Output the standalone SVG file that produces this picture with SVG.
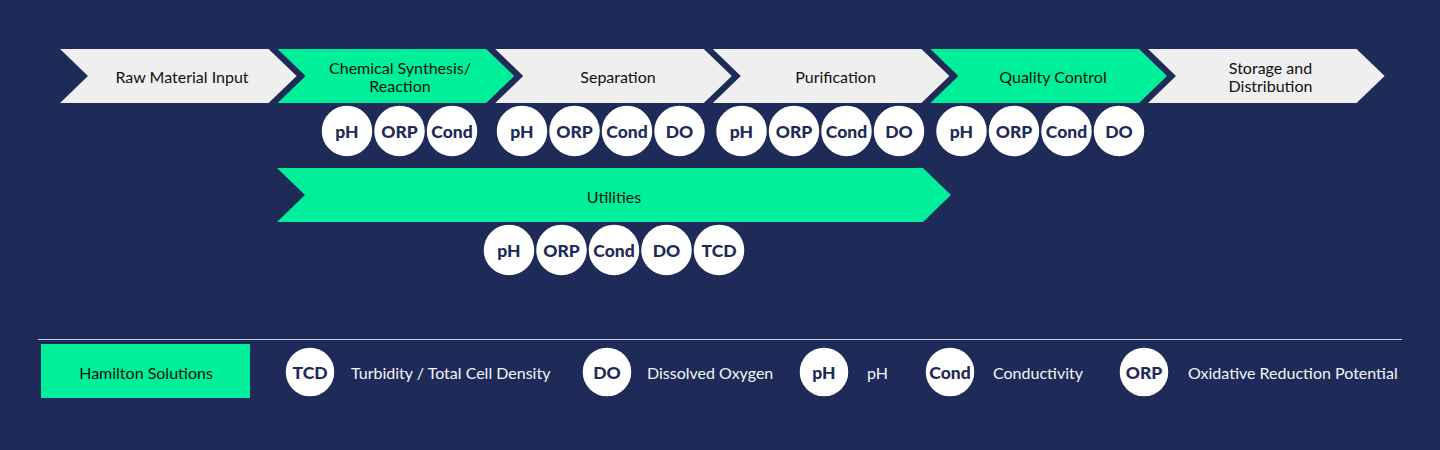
<svg xmlns="http://www.w3.org/2000/svg" width="1440" height="450" viewBox="0 0 1440 450">
<defs>
<style>
.bg{fill:#1e2b58}
.gray{fill:#efefef}
.green{fill:#00ef9a}
.lbl{font-family:Lato,"Liberation Sans",sans-serif;font-size:16px;fill:#111;text-anchor:middle;dominant-baseline:central}
.c{fill:#fff;stroke:#1e2b58;stroke-width:1.5}
.ct{font-family:Lato,"Liberation Sans",sans-serif;font-weight:900;font-size:17.5px;fill:#1e2b58;text-anchor:middle;dominant-baseline:central}
.lg{font-family:Lato,"Liberation Sans",sans-serif;font-size:16px;fill:#f4f4f8;dominant-baseline:central}
</style>
<path id="chev" d="M0,0 H208.6 L236.6,27 L208.6,54 H0 L28,27 Z"/>
</defs>
<rect class="bg" x="0" y="0" width="1440" height="450"/>

<g id="stage-raw">
<use href="#chev" class="gray" x="60" y="49"/>
<text class="lbl" x="182" y="76">Raw Material Input</text>
</g>
<g id="stage-synthesis">
<use href="#chev" class="green" x="277.6" y="49"/>
<text class="lbl" x="400" y="67">Chemical Synthesis/</text>
<text class="lbl" x="400" y="85">Reaction</text>
</g>
<g id="stage-separation">
<use href="#chev" class="gray" x="495.2" y="49"/>
<text class="lbl" x="618" y="76">Separation</text>
</g>
<g id="stage-purification">
<use href="#chev" class="gray" x="712.8" y="49"/>
<text class="lbl" x="835.5" y="76">Purification</text>
</g>
<g id="stage-qc">
<use href="#chev" class="green" x="930.4" y="49"/>
<text class="lbl" x="1053" y="76">Quality Control</text>
</g>
<g id="stage-storage">
<use href="#chev" class="gray" x="1148" y="49"/>
<text class="lbl" x="1270.5" y="67">Storage and</text>
<text class="lbl" x="1270.5" y="85">Distribution</text>
</g>

<g id="utilities">
<path class="green" d="M277,168 H923 L951,195 L923,222 H277 L305,195 Z"/>
<text class="lbl" x="614" y="196">Utilities</text>
</g>

<g id="sensors-synthesis">
<circle class="c" cx="347" cy="131" r="26"/><text class="ct" x="347" y="131">pH</text>
<circle class="c" cx="399.5" cy="131" r="26"/><text class="ct" x="399.5" y="131">ORP</text>
<circle class="c" cx="452" cy="131" r="26"/><text class="ct" x="452" y="131">Cond</text>
</g>
<g id="sensors-separation">
<circle class="c" cx="522" cy="131" r="26"/><text class="ct" x="522" y="131">pH</text>
<circle class="c" cx="574.5" cy="131" r="26"/><text class="ct" x="574.5" y="131">ORP</text>
<circle class="c" cx="627" cy="131" r="26"/><text class="ct" x="627" y="131">Cond</text>
<circle class="c" cx="679.5" cy="131" r="26"/><text class="ct" x="679.5" y="131">DO</text>
</g>
<g id="sensors-purification">
<circle class="c" cx="741.5" cy="131" r="26"/><text class="ct" x="741.5" y="131">pH</text>
<circle class="c" cx="794" cy="131" r="26"/><text class="ct" x="794" y="131">ORP</text>
<circle class="c" cx="846.5" cy="131" r="26"/><text class="ct" x="846.5" y="131">Cond</text>
<circle class="c" cx="899" cy="131" r="26"/><text class="ct" x="899" y="131">DO</text>
</g>
<g id="sensors-qc">
<circle class="c" cx="961.5" cy="131" r="26"/><text class="ct" x="961.5" y="131">pH</text>
<circle class="c" cx="1014" cy="131" r="26"/><text class="ct" x="1014" y="131">ORP</text>
<circle class="c" cx="1066.5" cy="131" r="26"/><text class="ct" x="1066.5" y="131">Cond</text>
<circle class="c" cx="1119" cy="131" r="26"/><text class="ct" x="1119" y="131">DO</text>
</g>
<g id="sensors-utilities">
<circle class="c" cx="509" cy="250" r="26"/><text class="ct" x="509" y="250">pH</text>
<circle class="c" cx="561.5" cy="250" r="26"/><text class="ct" x="561.5" y="250">ORP</text>
<circle class="c" cx="614" cy="250" r="26"/><text class="ct" x="614" y="250">Cond</text>
<circle class="c" cx="666.5" cy="250" r="26"/><text class="ct" x="666.5" y="250">DO</text>
<circle class="c" cx="719" cy="250" r="26"/><text class="ct" x="719" y="250">TCD</text>
</g>

<g id="connectors"></g>

<g id="legend">
<line x1="38" y1="339.5" x2="1402" y2="339.5" stroke="#c9cde0" stroke-width="1.2"/>
<rect class="green" x="41" y="344" width="209" height="54"/>
<text class="lbl" x="146" y="372">Hamilton Solutions</text>
<circle class="c" cx="310" cy="372" r="25"/><text class="ct" x="310" y="372">TCD</text>
<text class="lg" x="351" y="372">Turbidity / Total Cell Density</text>
<circle class="c" cx="607" cy="372" r="25"/><text class="ct" x="607" y="372">DO</text>
<text class="lg" x="647" y="372">Dissolved Oxygen</text>
<circle class="c" cx="824" cy="372" r="25"/><text class="ct" x="824" y="372">pH</text>
<text class="lg" x="867" y="372">pH</text>
<circle class="c" cx="950" cy="372" r="25"/><text class="ct" x="950" y="372">Cond</text>
<text class="lg" x="993" y="372">Conductivity</text>
<circle class="c" cx="1144" cy="372" r="25"/><text class="ct" x="1144" y="372">ORP</text>
<text class="lg" x="1188" y="372">Oxidative Reduction Potential</text>
</g>
</svg>
